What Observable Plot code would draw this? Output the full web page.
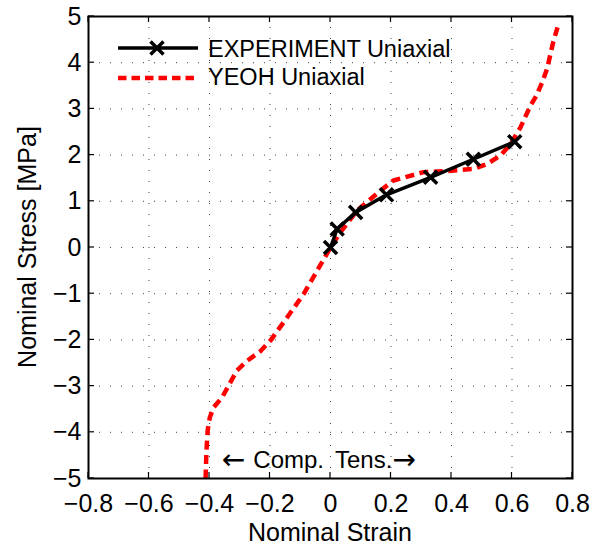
<!DOCTYPE html>
<html>
<head>
<meta charset="utf-8">
<script src="https://cdn.jsdelivr.net/npm/d3@7"></script>
<script src="https://cdn.jsdelivr.net/npm/@observablehq/plot@0.6"></script>
<style>
  html, body { margin: 0; padding: 0; background: #fff; }
  #chart { width: 592px; height: 548px; }
</style>
</head>
<body>
<div id="chart"></div>
<script>
// Experiment data (nominal strain, nominal stress MPa)
const expStrain = [0, 0.022, 0.083, 0.185, 0.331, 0.472, 0.609];
const expStress = [0, 0.40, 0.76, 1.14, 1.52, 1.91, 2.29];

// YEOH model curve
const yeohStrain = [-0.413, -0.410, -0.406, -0.399, -0.386, -0.358, -0.331, -0.309, -0.275, -0.231, -0.198, -0.143, -0.088, -0.044, 0, 0.033, 0.088, 0.165, 0.208, 0.307, 0.374, 0.473, 0.518, 0.562, 0.595, 0.628, 0.661, 0.681, 0.700, 0.716, 0.736, 0.752];
const yeohStress = [-5.0, -4.39, -3.96, -3.68, -3.46, -3.24, -2.92, -2.66, -2.45, -2.24, -2.01, -1.51, -1.0, -0.5, 0, 0.33, 0.80, 1.23, 1.45, 1.63, 1.65, 1.70, 1.81, 1.99, 2.24, 2.60, 3.07, 3.29, 3.58, 3.87, 4.44, 4.80];

const xTicks = [-0.8, -0.6, -0.4, -0.2, 0, 0.2, 0.4, 0.6, 0.8];
const yTicks = [-5, -4, -3, -2, -1, 0, 1, 2, 3, 4, 5];

const seriesNames = ["EXPERIMENT Uniaxial", "YEOH Uniaxial"];
const xLabel = "Nominal Strain";
const yLabel = "Nominal Stress [MPa]";
const annotComp = "Comp.";
const annotTens = "Tens.";

const expData = expStrain.map((x, i) => ({x, y: expStress[i]}));
const yeohData = yeohStrain.map((x, i) => ({x, y: yeohStress[i]}));

const FONT = "'Liberation Sans', Arial, Helvetica, sans-serif";
const FS = 25;
const fmtX = d => d === 0 ? "0" : d3.format(".1f")(d);
const fmtY = d => d3.format("d")(d);

const chart = Plot.plot({
  width: 592,
  height: 548,
  marginLeft: 88,
  marginRight: 20,
  marginTop: 16,
  marginBottom: 70,
  style: {fontFamily: FONT, fontSize: FS + "px", background: "#fff", color: "#000"},
  x: {domain: [-0.8, 0.8]},
  y: {domain: [-5, 5]},
  marks: [
    Plot.gridX(xTicks, {stroke: "#444", strokeOpacity: 1, strokeWidth: 1, strokeDasharray: "1,10"}),
    Plot.gridY(yTicks, {stroke: "#444", strokeOpacity: 1, strokeWidth: 1, strokeDasharray: "1,10"}),
    Plot.axisX(xTicks, {tickSize: 0, tickPadding: 16, tickFormat: fmtX, label: null, fontSize: FS}),
    Plot.axisY(yTicks, {tickSize: 0, tickPadding: 7, tickFormat: fmtY, label: null, fontSize: FS}),
    Plot.line(yeohData, {x: "x", y: "y", stroke: "#ff0000", strokeWidth: 4.5, strokeDasharray: "9,5.5", strokeLinecap: "butt", strokeLinejoin: "round"}),
    Plot.line(expData, {x: "x", y: "y", stroke: "#000", strokeWidth: 3.5}),
    Plot.dot(expData, {x: "x", y: "y", symbol: "times", r: 6, stroke: "#000", strokeWidth: 3.5}),
    Plot.frame({stroke: "#000", strokeWidth: 2})
  ]
});

// Inward tick marks on all four sides (MATLAB style) using the plot's scales
const sx = chart.scale("x"), sy = chart.scale("y");
const svg = d3.select(chart);
const L = 88, R = 572, T = 16, B = 478, TL = 6;
const g = svg.append("g").attr("stroke", "#000").attr("stroke-width", 1.2);
xTicks.forEach(v => {
  const px = sx.apply(v);
  g.append("line").attr("x1", px).attr("x2", px).attr("y1", B).attr("y2", B - TL);
  g.append("line").attr("x1", px).attr("x2", px).attr("y1", T).attr("y2", T + TL);
});
yTicks.forEach(v => {
  const py = sy.apply(v);
  g.append("line").attr("x1", L).attr("x2", L + TL).attr("y1", py).attr("y2", py);
  g.append("line").attr("x1", R).attr("x2", R - TL).attr("y1", py).attr("y2", py);
});

// Annotation "← Comp. | Tens.→" around strain 0
const x0 = sx.apply(0);
const ann = svg.append("g").attr("font-family", FONT).attr("font-size", 24).attr("fill", "#000").attr("stroke", "none");
const tl = ann.append("text").attr("x", x0 - 6).attr("y", 468).attr("text-anchor", "end");
tl.append("tspan").attr("font-family", "'DejaVu Sans'").attr("font-size", 28).attr("dy", 1).text("\u2190");
tl.append("tspan").attr("dx", 8).attr("dy", -1).text(annotComp);
const tr = ann.append("text").attr("x", x0 + 5).attr("y", 468).attr("text-anchor", "start");
tr.append("tspan").text(annotTens);
tr.append("tspan").attr("font-family", "'DejaVu Sans'").attr("font-size", 28).attr("dy", 1).text("\u2192");

// Axis titles
svg.append("text").text(xLabel)
  .attr("x", (L + R) / 2).attr("y", 541)
  .attr("text-anchor", "middle").attr("font-size", FS).attr("font-family", FONT).attr("fill", "#000");
svg.append("text").text(yLabel)
  .attr("transform", `translate(36,${(T + B) / 2}) rotate(-90)`)
  .attr("text-anchor", "middle").attr("font-size", FS).attr("font-family", FONT).attr("fill", "#000");

// Legend (inside the axes, no box)
const leg = svg.append("g");
const rows = [{y: 48, base: 57, name: seriesNames[0]}, {y: 78, base: 85, name: seriesNames[1]}];
leg.append("line").attr("x1", 118).attr("x2", 198).attr("y1", rows[0].y).attr("y2", rows[0].y)
  .attr("stroke", "#000").attr("stroke-width", 3.5);
leg.append("path").attr("d", `M${157-6.5},${rows[0].y-6.5}L${157+6.5},${rows[0].y+6.5}M${157-6.5},${rows[0].y+6.5}L${157+6.5},${rows[0].y-6.5}`)
  .attr("stroke", "#000").attr("stroke-width", 3.5).attr("fill", "none");
leg.append("line").attr("x1", 118).attr("x2", 198).attr("y1", rows[1].y).attr("y2", rows[1].y)
  .attr("stroke", "#ff0000").attr("stroke-width", 4.5).attr("stroke-dasharray", "8.5,5");
rows.forEach(r => {
  leg.append("text").text(r.name).attr("x", 208).attr("y", r.base).attr("text-anchor", "start")
    .attr("font-size", 23.5).attr("font-family", FONT).attr("fill", "#000");
});

document.getElementById("chart").appendChild(chart);
</script>
</body>
</html>
